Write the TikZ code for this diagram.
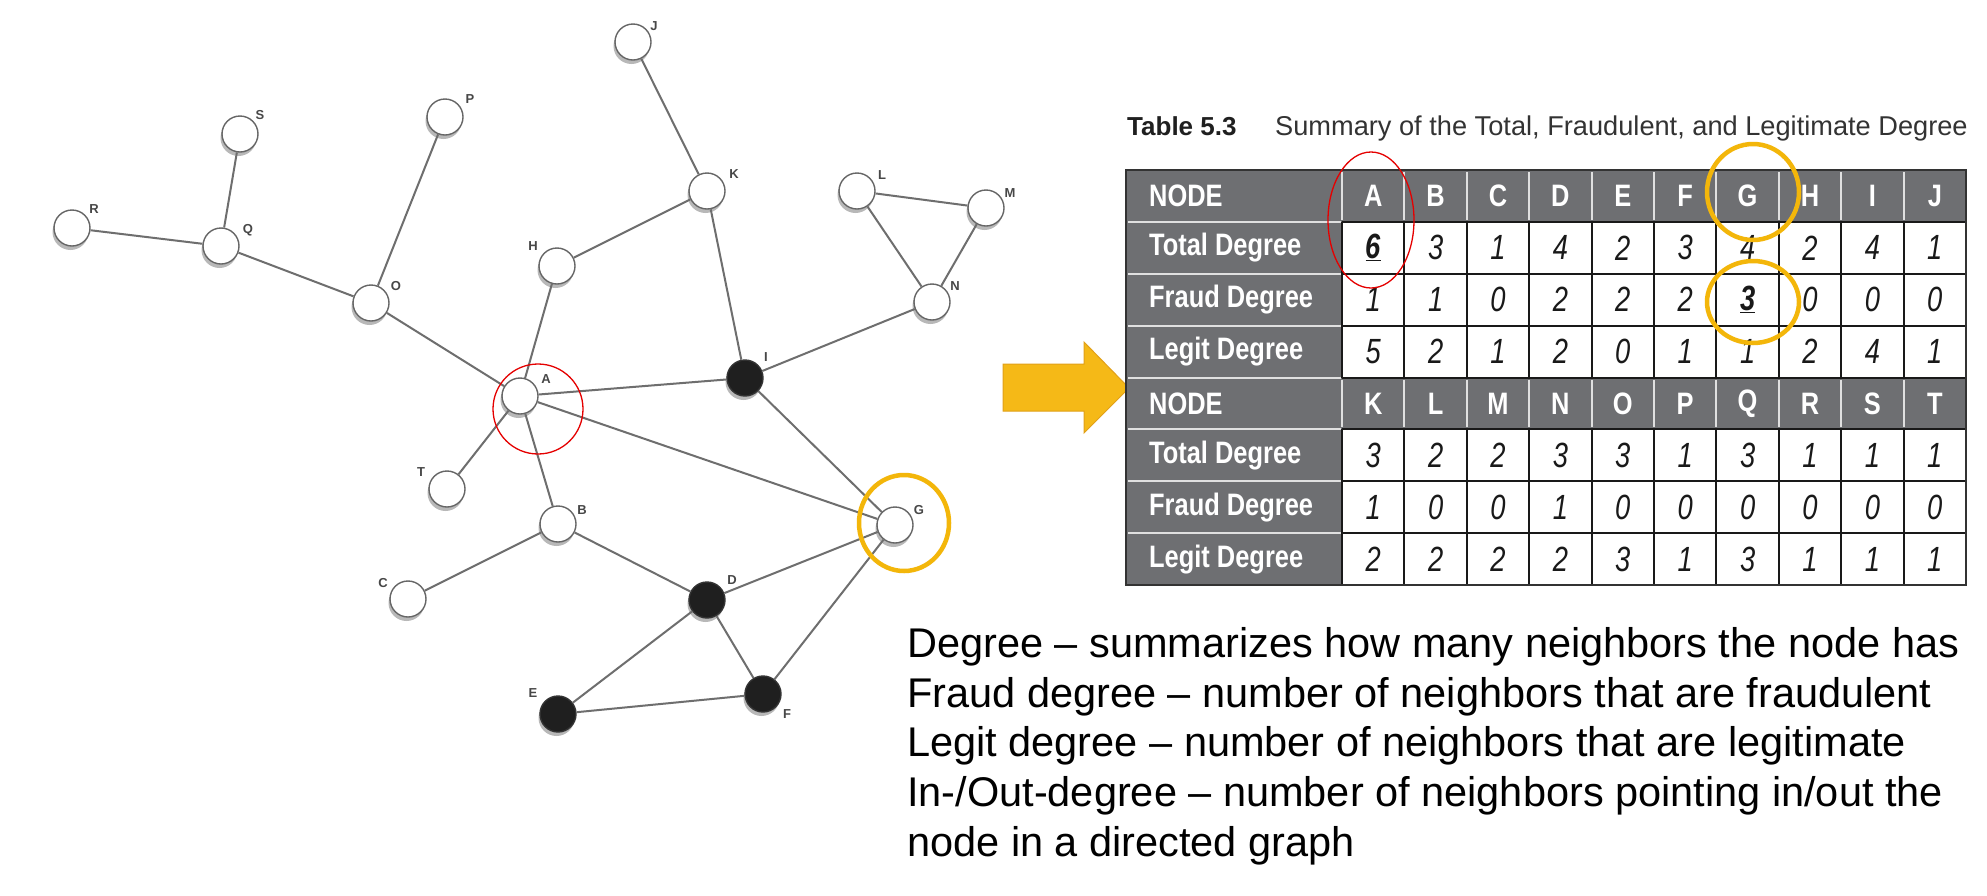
\documentclass[tikz,border=0pt]{standalone}
\usepackage{fontspec}
\setmainfont{Liberation Sans}
\newfontfamily\condfont[FakeStretch=0.82]{Liberation Sans}
\newfontfamily\digitfont[FakeStretch=0.78]{Liberation Sans}
\usetikzlibrary{shadows}
\definecolor{tgray}{RGB}{110,111,114}
\definecolor{gold}{RGB}{243,182,10}
\definecolor{arrowfill}{RGB}{245,185,23}
\definecolor{arrowedge}{RGB}{225,160,25}
\definecolor{edgegray}{RGB}{110,110,110}
\newcommand\ulnum[1]{\underline{\bfseries #1}}
\tikzset{
  gnode/.style={circle, minimum size=36pt, inner sep=0pt, draw=black!60, line width=1.4pt, fill=white,
    drop shadow={shadow xshift=-1.5pt, shadow yshift=-4pt, opacity=0.28, fill=black}},
  fraud/.style={gnode, draw=black!80, fill=black!88},
  gedge/.style={draw=edgegray, line width=2pt},
  glabel/.style={inner sep=0pt, text=black!72, font=\bfseries\fontsize{13}{14}\selectfont},
  hdr/.style={inner sep=0pt, text=white, font=\condfont\bfseries\fontsize{31}{34}\selectfont},
  rowlab/.style={inner sep=0pt, text=white, anchor=west, font=\condfont\bfseries\fontsize{31}{33}\selectfont},
  cellnum/.style={inner sep=0pt, text=black!90, font=\digitfont\itshape\fontsize{35}{36}\selectfont},
  lightsep/.style={draw=black!12, line width=2pt},
  gridline/.style={draw=black!90, line width=2pt},
  explain/.style={inner sep=0pt, anchor=base west, font=\fontsize{41.5}{50}\selectfont},
  hilite/.style={draw=gold, line width=4.5pt},
  redring/.style={draw=red!90!black, line width=1.3pt}
}
\begin{document}
\begin{tikzpicture}[x=1pt,y=-1pt]
\useasboundingbox (0,0) rectangle (1987,895);
\fill[white] (0,0) rectangle (1987,895);

% ---------------- graph ----------------
\node[gnode] (J) at (633,42) {};
\node[gnode] (S) at (240,134) {};
\node[gnode] (P) at (445,117) {};
\node[gnode] (R) at (72,228) {};
\node[gnode] (Q) at (221,246) {};
\node[gnode] (O) at (371,303) {};
\node[gnode] (H) at (557,266) {};
\node[gnode] (K) at (707,191) {};
\node[gnode] (L) at (857,191) {};
\node[gnode] (M) at (986,208) {};
\node[gnode] (N) at (932,302) {};
\node[fraud] (I) at (745,378) {};
\node[gnode] (A) at (520,396) {};
\node[gnode] (T) at (447,489) {};
\node[gnode] (B) at (558,524) {};
\node[gnode] (G) at (895,525) {};
\node[gnode] (C) at (408,599) {};
\node[fraud] (D) at (707,600) {};
\node[fraud] (E) at (558,714) {};
\node[fraud] (F) at (763,694) {};

\foreach \u/\v in {R/Q,S/Q,Q/O,P/O,O/A,H/A,H/K,J/K,K/I,L/M,L/N,M/N,N/I,A/I,A/T,A/B,A/G,I/G,B/C,B/D,D/G,D/E,D/F,E/F,F/G}
  \draw[gedge] (\u) -- (\v);

\node[glabel] (lJ) at (654,26) {J};
\node[glabel] (lS) at (260,115) {S};
\node[glabel] (lP) at (470,99) {P};
\node[glabel] (lR) at (94,209) {R};
\node[glabel] (lQ) at (248,230) {Q};
\node[glabel] (lO) at (396,286) {O};
\node[glabel] (lH) at (533,246) {H};
\node[glabel] (lK) at (734,174) {K};
\node[glabel] (lL) at (882,175) {L};
\node[glabel] (lM) at (1010,193) {M};
\node[glabel] (lN) at (955,286) {N};
\node[glabel] (lI) at (766,357) {I};
\node[glabel] (lA) at (546,379) {A};
\node[glabel] (lT) at (421,472) {T};
\node[glabel] (lB) at (582,510) {B};
\node[glabel] (lC) at (383,583) {C};
\node[glabel] (lD) at (732,580) {D};
\node[glabel] (lE) at (533,693) {E};
\node[glabel] (lF) at (787,714) {F};
\node[glabel] (lG) at (919,510) {G};

\draw[redring] (538,409) circle[radius=45];
\draw[hilite] (904,523) ellipse[x radius=45, y radius=48];

% ---------------- arrow ----------------
\fill[arrowfill] (1003,364) -- (1084,364) -- (1084,342) -- (1129,388) -- (1084,433) -- (1084,411) -- (1003,411) -- cycle;
\draw[arrowedge, line width=1pt] (1003,364) -- (1084,364) -- (1084,342) -- (1129,388) -- (1084,433) -- (1084,411) -- (1003,411) -- cycle;

% ---------------- caption ----------------
\node[inner sep=0pt, anchor=base west, text=black!88, font=\fontsize{26}{30}\selectfont\bfseries] (cap1) at (1127,135) {Table 5.3};
\node[inner sep=0pt, anchor=base west, text=black!80, font=\fontsize{27.2}{30}\selectfont] (cap2) at (1275,135) {Summary of the Total, Fraudulent, and Legitimate Degree};

% ---------------- table ----------------
\fill[tgray] (1126,170) rectangle (1966,585);
\foreach \j in {2,3,4,6,7,8}
  \fill[white] (1342,{170+(\j-1)*51.875}) rectangle (1966,{170+\j*51.875});
\foreach \j in {1,...,7}
  \draw[lightsep] (1128,{170+\j*51.875}) -- (1341,{170+\j*51.875});
\foreach \j in {1,5}
  \foreach \k in {0,...,9}
    \draw[lightsep] ({1342+\k*62.4},{172+(\j-1)*51.875}) -- ({1342+\k*62.4},{168+\j*51.875});
\foreach \j in {1,...,7}
  \draw[gridline] (1342,{170+\j*51.875}) -- (1966,{170+\j*51.875});
\foreach \k in {0,...,10} {
  \draw[gridline] ({1342+\k*62.4},221.875) -- ({1342+\k*62.4},377.5);
  \draw[gridline] ({1342+\k*62.4},429.375) -- ({1342+\k*62.4},585);
}
\draw[line width=2.5pt, black!80] (1126,170) rectangle (1966,585);

% header rows
\node[hdr, anchor=west] (nodeA) at (1149,{170+0.5*51.875}) {NODE};
\node[hdr, anchor=west] (nodeB) at (1149,{170+4.5*51.875}) {NODE};
\foreach \t [count=\k] in {A,B,C,D,E,F,G,H,I,J}
  \node[hdr] (h1-\k) at ({1342+(\k-0.5)*62.4},{170+0.5*51.875}) {\t};
\foreach \t [count=\k] in {K,L,M,N,O,P,Q,R,S,T}
  \node[hdr] (h5-\k) at ({1342+(\k-0.5)*62.4},{170+4.5*51.875}) {\t};

% row labels
\foreach \j/\t in {2/Total Degree,3/Fraud Degree,4/Legit Degree,6/Total Degree,7/Fraud Degree,8/Legit Degree}
  \node[rowlab] (r\j) at (1149,{170+(\j-0.5)*51.875}) {\t};

% data
\foreach \v [count=\k] in {\ulnum{6},3,1,4,2,3,4,2,4,1}
  \node[cellnum] (c2-\k) at ({1342+(\k-0.5)*62.4},{170+1.5*51.875}) {\v};
\foreach \v [count=\k] in {1,1,0,2,2,2,\ulnum{3},0,0,0}
  \node[cellnum] (c3-\k) at ({1342+(\k-0.5)*62.4},{170+2.5*51.875}) {\v};
\foreach \v [count=\k] in {5,2,1,2,0,1,1,2,4,1}
  \node[cellnum] (c4-\k) at ({1342+(\k-0.5)*62.4},{170+3.5*51.875}) {\v};
\foreach \v [count=\k] in {3,2,2,3,3,1,3,1,1,1}
  \node[cellnum] (c6-\k) at ({1342+(\k-0.5)*62.4},{170+5.5*51.875}) {\v};
\foreach \v [count=\k] in {1,0,0,1,0,0,0,0,0,0}
  \node[cellnum] (c7-\k) at ({1342+(\k-0.5)*62.4},{170+6.5*51.875}) {\v};
\foreach \v [count=\k] in {2,2,2,2,3,1,3,1,1,1}
  \node[cellnum] (c8-\k) at ({1342+(\k-0.5)*62.4},{170+7.5*51.875}) {\v};

% highlights on table
\draw[redring] (1371,220) ellipse[x radius=43, y radius=68];
\draw[hilite] (1753,192) ellipse[x radius=46, y radius=48];
\draw[hilite] (1753,302) ellipse[x radius=46, y radius=41];

% ---------------- explanation ----------------
\node[explain] (t1) at (907,657) {Degree – summarizes how many neighbors the node has};
\node[explain] (t2) at (907,707) {Fraud degree – number of neighbors that are fraudulent};
\node[explain] (t3) at (907,756) {Legit degree – number of neighbors that are legitimate};
\node[explain] (t4) at (907,806) {In-/Out-degree – number of neighbors pointing in/out the};
\node[explain] (t5) at (907,856) {node in a directed graph};
\end{tikzpicture}
\end{document}
